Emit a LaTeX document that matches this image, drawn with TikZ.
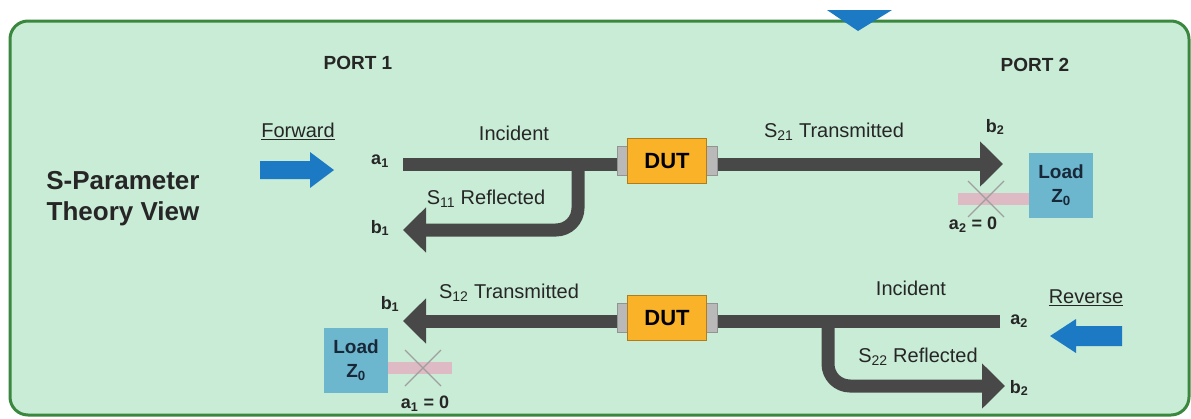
\documentclass[tikz,border=0pt]{standalone}
\usepackage{fontspec}
\setmainfont{Liberation Sans}
\usepackage{xcolor}
\usetikzlibrary{arrows.meta,backgrounds}
\definecolor{panelgreen}{RGB}{201,236,214}
\definecolor{bordergreen}{RGB}{58,135,62}
\definecolor{wiregray}{RGB}{72,72,72}
\definecolor{dutorange}{RGB}{250,178,40}
\definecolor{loadblue}{RGB}{108,183,206}
\definecolor{loadtext}{RGB}{24,40,56}
\definecolor{flowblue}{RGB}{28,122,196}
\definecolor{nullpink}{RGB}{222,186,196}
\definecolor{textdark}{RGB}{38,38,38}

\tikzset{
  wire/.style={draw=wiregray, line width=13pt},
  wirearrow/.style={wire, -{Triangle[length=23pt,width=44pt]}},
  dut/.style={draw=dutorange!70!black, fill=dutorange, line width=1pt, minimum width=79pt, minimum height=45pt, inner sep=0pt, font=\fontsize{22}{22}\selectfont\bfseries},
  plug/.style={draw=gray!85, fill=gray!55, minimum width=14pt, minimum height=29pt, inner sep=0pt},
  loadbox/.style={fill=loadblue, minimum width=64pt, minimum height=65pt, inner sep=0pt, align=center, text=loadtext, font=\fontsize{19}{24}\selectfont\bfseries},
  lbl/.style={text=textdark, font=\fontsize{20}{24}\selectfont},
  port/.style={text=textdark, font=\fontsize{19}{22}\selectfont\bfseries},
  headline/.style={text=textdark, align=center, font=\fontsize{26}{31}\selectfont\bfseries},
  sym/.style={text=textdark, font=\fontsize{18}{22}\selectfont\bfseries},
  nullbar/.style={draw=nullpink, line width=12pt},
  nullcross/.style={draw=gray!75, line width=1.3pt},
}

\begin{document}
\begin{tikzpicture}[x=1pt,y=-1pt]
    \useasboundingbox (0,0) rectangle (1191,418);

    % Titles
    \node[port] (port1) at (358,63) {PORT 1};
    \node[port] (port2) at (1035,65) {PORT 2};
    \node[headline] (view) at (123,199) {S-Parameter\\Theory View};

    % Forward direction
    \node[lbl] (fwd) at (298,131) {\underline{Forward}};
    \fill[flowblue] (260,161) -- (310,161) -- (310,152) -- (334,170) -- (310,188) -- (310,179) -- (260,179) -- cycle;
    \coordinate (fIn) at (403,164);
    \coordinate (fOut) at (1003,164);
    \coordinate (fRef) at (578,164);
    \coordinate (fRefEnd) at (403,230);
    \node[plug] (fPlugL) at (624,161) {};
    \node[plug] (fPlugR) at (710,161) {};
    \node[dut] (fDut) at (667,161) {DUT};
    \node[sym] (a1F) at (380,161) {a\textsubscript{1}};
    \node[lbl] (incF) at (514,133) {Incident};
    \node[lbl] (s11) at (486,199) {S\textsubscript{11} Reflected};
    \node[sym] (b1F) at (380,228) {b\textsubscript{1}};
    \node[lbl] (s21) at (834,132) {S\textsubscript{21} Transmitted};
    \node[sym] (b2F) at (995,127) {b\textsubscript{2}};
    \node[loadbox] (loadF) at (1061,185) {Load\\Z\textsubscript{0}};
    \coordinate (fNull) at (958,199);
    \draw[nullbar] (fNull) -- (fNull -| loadF.west);
    \draw[nullcross] (986,199) ++(-18,-18) -- ++(36,36) (986,199) ++(18,-18) -- ++(-36,36);
    \node[sym] (a2F) at (973,225) {a\textsubscript{2} = 0};

    % Reverse direction
    \node[lbl] (rev) at (1086,298) {\underline{Reverse}};
    \fill[flowblue] (1122,326) -- (1076,326) -- (1076,319) -- (1050,336) -- (1076,353) -- (1076,346) -- (1122,346) -- cycle;
    \coordinate (rIn) at (1000,321);
    \coordinate (rOut) at (403,321);
    \coordinate (rRef) at (828,321);
    \coordinate (rRefEnd) at (1005,386);
    \node[plug] (rPlugL) at (624,318) {};
    \node[plug] (rPlugR) at (710,318) {};
    \node[dut] (rDut) at (667,318) {DUT};
    \node[sym] (a2R) at (1019,321) {a\textsubscript{2}};
    \node[lbl] (incR) at (911,288) {Incident};
    \node[lbl] (s22) at (918,357) {S\textsubscript{22} Reflected};
    \node[sym] (b2R) at (1019,388) {b\textsubscript{2}};
    \node[lbl] (s12) at (509,293) {S\textsubscript{12} Transmitted};
    \node[sym] (b1R) at (390,304) {b\textsubscript{1}};
    \node[loadbox] (loadR) at (356,360) {Load\\Z\textsubscript{0}};
    \coordinate (rNull) at (452,368);
    \draw[nullbar] (rNull) -- (rNull -| loadR.east);
    \draw[nullcross] (423,368) ++(-18,-18) -- ++(36,36) (423,368) ++(18,-18) -- ++(-36,36);
    \node[sym] (a1R) at (425,404) {a\textsubscript{1} = 0};

    % Marker on the top edge
    \fill[flowblue] (827,10) -- (892,10) -- (858,31) -- cycle;

    % Panel and wires
    \begin{scope}[on background layer]
        \fill[white] (0,0) rectangle (1191,418);
        \draw[bordergreen, fill=panelgreen, line width=3pt, rounded corners=18pt] (10,21) rectangle (1189,415);
        \draw[wire] (fIn) -- (fPlugL.center |- fIn);
        \draw[wirearrow] (fPlugR.center |- fIn) -- (fOut);
        \draw[wirearrow, rounded corners=22pt] (fRef) |- (fRefEnd);
        \draw[wire] (rIn) -- (rPlugR.center |- rIn);
        \draw[wirearrow] (rPlugL.center |- rIn) -- (rOut);
        \draw[wirearrow, rounded corners=22pt] (rRef) |- (rRefEnd);
    \end{scope}
\end{tikzpicture}
\end{document}
